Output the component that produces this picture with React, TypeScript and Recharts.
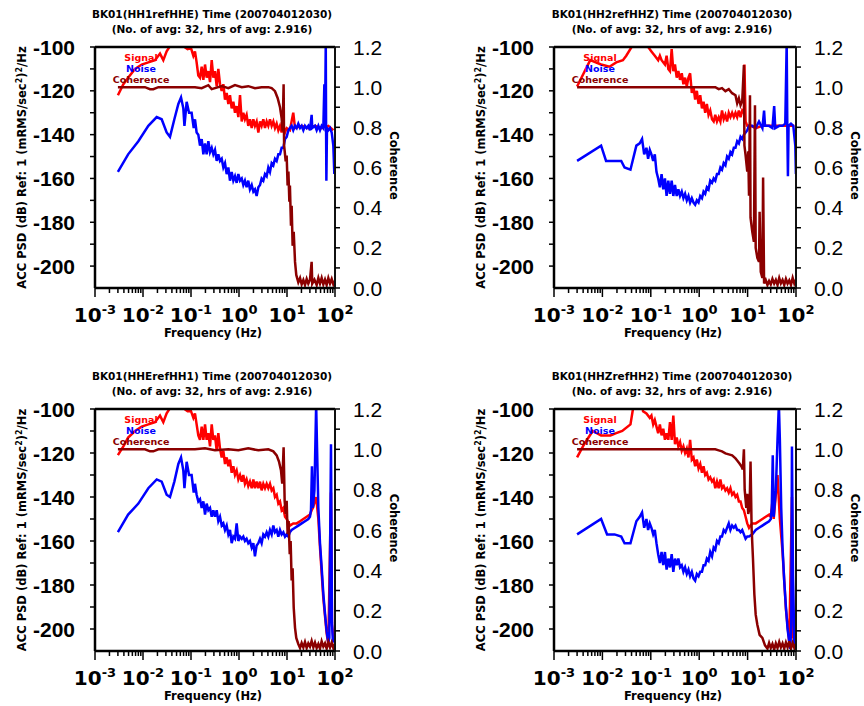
import { Legend, Line, LineChart, XAxis, YAxis } from "recharts";

type Pt = [number, number];

// ---- data: [frequency Hz, value] ----
const hh1Signal: Pt[] = [
  [0.003, -122], [0.0039, -117], [0.0049, -114], [0.0068, -110], [0.0094, -108], [0.0129, -107], [0.0178, -106],
  [0.0226, -103], [0.0265, -106], [0.0311, -102], [0.038, -99], [0.05, -95], [0.066, -97], [0.073, -100], [0.085, -101],
  [0.1, -100.5], [0.112, -104], [0.121, -102], [0.131, -107], [0.142, -113], [0.154, -114], [0.167, -109], [0.181, -115],
  [0.196, -108], [0.212, -114], [0.23, -111], [0.249, -116], [0.27, -106], [0.292, -114], [0.316, -111], [0.343, -118],
  [0.371, -110], [0.402, -117], [0.436, -120], [0.472, -117], [0.511, -124], [0.554, -121], [0.6, -126], [0.649, -122],
  [0.704, -128], [0.762, -125], [0.825, -130], [0.894, -127], [0.969, -132], [1.05, -122], [1.14, -134], [1.23, -130],
  [1.33, -133], [1.44, -131], [1.56, -136], [1.69, -133], [1.84, -137], [1.99, -133], [2.15, -136], [2.33, -134],
  [2.53, -139], [2.74, -134], [2.96, -136], [3.21, -133], [3.48, -137], [3.77, -134], [4.08, -136], [4.42, -133],
  [4.79, -136], [5.19, -134], [5.62, -137], [6.09, -135], [6.6, -138], [7.15, -136], [7.74, -139], [8.39, -136],
  [9.09, -139], [9.84, -137], [11.5, -138], [13.5, -130], [14.7, -137], [20.2, -136], [27.8, -137], [38.3, -136],
  [52.7, -137], [72.6, -136], [92.3, -138],
];
const hh1Noise: Pt[] = [
  [0.003, -157], [0.0049, -149], [0.008, -143], [0.0129, -136], [0.0193, -132], [0.0245, -133], [0.0311, -139],
  [0.0365, -141], [0.045, -133], [0.0545, -126], [0.062, -123], [0.0692, -128], [0.073, -136], [0.0812, -125],
  [0.091, -130], [0.103, -130], [0.114, -137], [0.121, -133], [0.131, -139], [0.142, -140], [0.154, -145], [0.167, -142],
  [0.181, -149], [0.196, -144], [0.212, -149], [0.23, -143], [0.249, -148], [0.27, -146], [0.292, -149], [0.316, -147],
  [0.343, -152], [0.371, -149], [0.402, -152], [0.436, -151], [0.472, -155], [0.511, -153], [0.554, -158], [0.6, -155],
  [0.649, -161], [0.704, -157], [0.762, -161], [0.825, -159], [0.894, -162], [0.969, -158], [1.05, -161], [1.14, -160],
  [1.23, -163], [1.33, -161], [1.44, -164], [1.56, -161], [1.69, -165], [1.84, -163], [1.99, -166], [2.15, -165],
  [2.33, -168], [2.53, -164], [2.74, -163], [2.96, -160], [3.21, -161], [3.48, -158], [3.77, -159], [4.08, -155],
  [4.42, -157], [4.79, -153], [5.19, -154], [5.62, -151], [6.09, -152], [6.6, -149], [7.15, -149], [7.74, -146],
  [8.39, -146], [9.09, -142], [9.84, -141], [10.7, -138], [11.5, -137], [12.5, -136], [13.5, -138], [14.7, -136],
  [15.9, -137], [17.2, -135], [18.7, -137], [20.2, -136], [21.9, -138], [23.7, -136], [25.7, -137], [27.8, -136],
  [30.1, -138], [32.6, -131], [33.6, -137], [38.3, -136], [41.5, -138], [45, -136], [48.7, -138], [52.7, -136],
  [57.1, -137], [60, -117], [61.9, -137], [64.2, -98], [65.2, -137], [66.1, -161], [68.1, -137], [72.6, -138],
  [78.7, -137], [85.3, -139], [92.3, -145], [96.8, -158],
];
const hh1Coherence: Pt[] = [
  [0.003, 1.0], [0.0049, 1.0], [0.011, 1.0], [0.014, 0.99], [0.0164, 0.99], [0.0209, 1.0], [0.0545, 1.0], [0.088, 1.0],
  [0.121, 1.0], [0.167, 0.995], [0.23, 1.01], [0.27, 0.99], [0.436, 1.005], [0.6, 0.995], [0.825, 1.01], [1.14, 1.0],
  [1.56, 1.005], [2.15, 0.995], [2.96, 1.0], [4.08, 1.0], [4.79, 0.995], [5.62, 0.98], [6.4, 0.945], [7.15, 0.9],
  [7.74, 0.845], [8.1, 0.78], [8.5, 1.015], [8.7, 0.71], [9.4, 0.63], [9.84, 0.66], [10.3, 0.51], [10.7, 0.58],
  [11.2, 0.43], [11.5, 0.51], [12.1, 0.31], [12.5, 0.41], [13.1, 0.21], [13.8, 0.28], [14.7, 0.13], [15.6, 0.065],
  [17.2, 0.028], [18.7, 0.05], [20.2, 0.018], [21.9, 0.04], [23.7, 0.015], [25.7, 0.045], [27.8, 0.022], [30.1, 0.04],
  [32.6, 0.13], [33.6, 0.022], [37.3, 0.042], [41.5, 0.015], [45, 0.05], [48.7, 0.022], [52.7, 0.05], [57.1, 0.018],
  [61.9, 0.042], [67, 0.015], [72.6, 0.05], [78.7, 0.022], [85.3, 0.045], [92.3, 0.018], [99, 0.035],
];

const hh2Signal: Pt[] = [
  [0.003, -118], [0.0056, -106], [0.0094, -108], [0.014, -109], [0.0193, -107], [0.0265, -106], [0.0311, -104],
  [0.0428, -99], [0.059, -96], [0.0812, -98], [0.088, -100], [0.103, -102], [0.121, -104], [0.142, -106], [0.154, -104],
  [0.167, -106], [0.196, -108], [0.212, -104], [0.23, -110], [0.249, -111], [0.27, -101], [0.292, -111], [0.316, -108],
  [0.343, -114], [0.371, -111], [0.402, -115], [0.436, -112], [0.472, -117], [0.511, -114], [0.554, -118], [0.6, -114],
  [0.649, -112], [0.704, -121], [0.762, -118], [0.825, -124], [0.894, -120], [0.969, -126], [1.05, -122], [1.14, -128],
  [1.23, -125], [1.33, -130], [1.44, -126], [1.56, -131], [1.69, -129], [1.84, -133], [1.99, -134], [2.15, -131],
  [2.33, -134], [2.53, -132], [2.74, -134], [2.96, -129], [3.21, -133], [3.48, -131], [3.77, -134], [4.08, -130],
  [4.42, -132], [4.79, -130], [5.19, -132], [5.62, -130], [6.09, -132], [6.6, -129], [7.15, -132], [7.74, -129],
  [8.39, -130], [8.6, -108], [9.09, -134], [9.84, -136], [11.5, -136], [14.7, -137], [20.2, -136], [27.8, -136],
  [38.3, -136], [52.7, -136], [72.6, -136], [92.3, -136],
];
const hh2Noise: Pt[] = [
  [0.003, -152], [0.0094, -145], [0.0119, -152], [0.0164, -152], [0.0245, -152], [0.0287, -155], [0.038, -156],
  [0.0503, -145], [0.059, -144], [0.066, -142], [0.073, -149], [0.0812, -146], [0.088, -151], [0.0953, -147],
  [0.103, -149], [0.112, -152], [0.121, -149], [0.131, -157], [0.142, -160], [0.154, -164], [0.167, -158], [0.181, -165],
  [0.196, -160], [0.212, -168], [0.23, -161], [0.249, -167], [0.27, -161], [0.292, -168], [0.316, -163], [0.343, -168],
  [0.371, -165], [0.402, -168], [0.436, -166], [0.472, -169], [0.511, -167], [0.554, -170], [0.6, -168], [0.649, -171],
  [0.704, -169], [0.762, -171], [0.825, -172], [0.894, -170], [0.969, -171], [1.05, -168], [1.14, -169], [1.23, -166],
  [1.33, -167], [1.44, -164], [1.56, -165], [1.69, -161], [1.84, -162], [1.99, -160], [2.15, -161], [2.33, -158],
  [2.53, -158], [2.74, -155], [2.96, -156], [3.21, -153], [3.48, -154], [3.77, -150], [4.08, -151], [4.42, -148],
  [4.79, -149], [5.19, -146], [5.62, -146], [6.09, -143], [6.6, -144], [7.15, -141], [7.74, -142], [8.39, -140],
  [9.09, -139], [9.84, -138], [10.7, -136], [12.5, -136], [14.7, -137], [17.2, -134], [20.2, -137], [21.9, -129],
  [22.9, -136], [27.8, -136], [32.6, -137], [35.4, -127], [37.3, -137], [45, -136], [52.7, -136], [60, -135],
  [64.2, -98], [66.1, -136], [68.1, -159], [70.2, -136], [78.7, -135], [87.9, -136], [96.8, -145], [99.5, -158],
];
const hh2Coherence: Pt[] = [
  [0.003, 1.0], [0.0245, 1.0], [0.6, 1.0], [1.84, 1.0], [2.15, 1.0], [2.53, 0.99], [2.96, 0.995], [3.48, 0.98],
  [4.08, 0.99], [4.79, 0.97], [5.62, 0.96], [6.09, 0.92], [6.6, 0.945], [7.15, 0.91], [7.74, 0.93], [8.39, 1.11],
  [8.6, 0.71], [9.09, 0.66], [9.84, 0.58], [10.3, 0.68], [10.7, 0.46], [11.2, 0.96], [11.5, 0.35], [12.5, 0.28],
  [13.5, 0.23], [14.2, 0.91], [14.7, 0.2], [15.9, 0.15], [17.2, 0.13], [17.7, 0.38], [18.7, 0.08], [20.2, 0.05],
  [20.9, 0.55], [21.9, 0.023], [23.7, 0.04], [25.7, 0.015], [27.8, 0.035], [30.1, 0.018], [32.6, 0.045], [35.4, 0.022],
  [38.3, 0.04], [41.5, 0.015], [45, 0.05], [48.7, 0.023], [52.7, 0.04], [57.1, 0.015], [61.9, 0.045], [67, 0.022],
  [72.6, 0.038], [78.7, 0.015], [85.3, 0.05], [92.3, 0.022], [99, 0.04],
];

const hheSignal: Pt[] = [
  [0.003, -121], [0.0039, -117], [0.0049, -113], [0.0068, -110], [0.0094, -108], [0.0129, -107], [0.0178, -106],
  [0.0226, -103], [0.0265, -106], [0.0311, -102], [0.038, -99], [0.0503, -95], [0.066, -97], [0.073, -100],
  [0.085, -101], [0.1, -101], [0.112, -104], [0.121, -102], [0.131, -107], [0.142, -112], [0.154, -114], [0.167, -108],
  [0.181, -114], [0.196, -107], [0.212, -114], [0.23, -111], [0.249, -117], [0.27, -107], [0.292, -114], [0.316, -112],
  [0.343, -119], [0.371, -111], [0.402, -118], [0.436, -122], [0.472, -119], [0.511, -125], [0.554, -122], [0.6, -126],
  [0.649, -123], [0.704, -129], [0.762, -126], [0.825, -130], [0.894, -128], [0.969, -132], [1.05, -130], [1.14, -133],
  [1.23, -130], [1.33, -134], [1.44, -132], [1.56, -135], [1.69, -133], [1.84, -136], [1.99, -132], [2.15, -136],
  [2.33, -133], [2.53, -136], [2.74, -133], [2.96, -137], [3.21, -134], [3.48, -136], [3.77, -134], [4.08, -136],
  [4.42, -134], [4.79, -137], [5.19, -136], [5.62, -140], [6.09, -139], [6.6, -143], [7.15, -142], [7.74, -146],
  [8.39, -145], [9.09, -149], [9.84, -150], [11.5, -153], [13.5, -152], [15.9, -152], [18.7, -151], [21.9, -150],
  [25.7, -149], [30.1, -148], [32.6, -146], [34.6, -145], [40.5, -140], [45, -150], [48.7, -163], [57.1, -186],
  [67, -202], [72.6, -207], [82.5, -138], [86.5, -198], [95, -206],
];
const hheNoise: Pt[] = [
  [0.003, -156], [0.0049, -148], [0.008, -143], [0.0129, -136], [0.0193, -132], [0.0245, -133], [0.0311, -139],
  [0.0365, -140], [0.045, -133], [0.0545, -125], [0.062, -122], [0.0692, -128], [0.073, -136], [0.0812, -124],
  [0.091, -130], [0.103, -130], [0.114, -138], [0.121, -134], [0.131, -139], [0.142, -142], [0.154, -141], [0.167, -145],
  [0.181, -142], [0.196, -148], [0.212, -143], [0.23, -146], [0.249, -145], [0.27, -149], [0.292, -146], [0.316, -149],
  [0.343, -146], [0.371, -151], [0.402, -149], [0.436, -153], [0.472, -152], [0.511, -155], [0.554, -153], [0.6, -157],
  [0.649, -155], [0.704, -161], [0.762, -158], [0.825, -159], [0.894, -152], [0.969, -160], [1.05, -158], [1.14, -159],
  [1.23, -158], [1.33, -160], [1.44, -159], [1.56, -161], [1.69, -160], [1.84, -163], [1.99, -161], [2.15, -167],
  [2.33, -162], [2.53, -161], [2.74, -159], [2.96, -161], [3.21, -157], [3.48, -158], [3.77, -156], [4.08, -158],
  [4.42, -155], [4.79, -157], [5.19, -153], [5.62, -156], [6.09, -155], [6.6, -158], [7.15, -155], [7.74, -157],
  [8.39, -156], [9.09, -158], [9.84, -157], [10.7, -158], [11.5, -156], [12.5, -155], [14.7, -154], [17.2, -153],
  [20.2, -152], [23.7, -151], [27.8, -150], [30.1, -149], [31.6, -146], [33.1, -126], [34.6, -145], [37.3, -137],
  [40.5, -98], [42.2, -117], [45, -145], [48.7, -161], [52.7, -172], [57.1, -184], [61.9, -193], [67, -201],
  [72.6, -206], [76.2, -204], [82.5, -116], [86.5, -197], [90.5, -206], [95, -205],
];
const hheCoherence: Pt[] = [
  [0.003, 1.0], [0.011, 1.0], [0.014, 0.99], [0.0164, 0.99], [0.0209, 1.0], [0.121, 1.0], [0.196, 1.005],
  [0.316, 0.995], [0.6, 1.0], [0.969, 0.995], [1.56, 1.005], [2.53, 0.995], [4.08, 1.0], [5.19, 0.99], [6.09, 0.97],
  [6.8, 0.94], [7.5, 0.895], [7.96, 0.83], [8.5, 1.01], [8.93, 0.745], [9.4, 0.68], [9.84, 0.745], [10.3, 0.58],
  [10.8, 0.645], [11.4, 0.48], [11.9, 0.545], [12.5, 0.35], [13.1, 0.41], [13.8, 0.215], [14.7, 0.115], [15.6, 0.065],
  [17.2, 0.035], [18.7, 0.015], [20.2, 0.04], [21.9, 0.018], [23.7, 0.045], [25.7, 0.015], [27.8, 0.038], [30.1, 0.022],
  [32.6, 0.05], [35.4, 0.018], [38.3, 0.042], [41.5, 0.015], [45, 0.035], [48.7, 0.012], [52.7, 0.048], [57.1, 0.022],
  [61.9, 0.038], [67, 0.012], [72.6, 0.045], [78.7, 0.018], [85.3, 0.042], [92.3, 0.015], [99, 0.035],
];

const hhzSignal: Pt[] = [
  [0.003, -122], [0.0042, -116], [0.0063, -110], [0.0094, -112], [0.0147, -112], [0.0193, -111], [0.0257, -110],
  [0.038, -107], [0.0428, -100], [0.0545, -96], [0.066, -97], [0.0692, -101], [0.0812, -102], [0.0953, -104],
  [0.103, -103], [0.112, -107], [0.121, -105], [0.131, -108], [0.142, -111], [0.154, -107], [0.167, -112], [0.181, -109],
  [0.196, -114], [0.212, -111], [0.23, -114], [0.249, -106], [0.27, -114], [0.292, -103], [0.316, -116], [0.343, -113],
  [0.371, -117], [0.402, -115], [0.436, -119], [0.472, -117], [0.511, -120], [0.554, -118], [0.6, -122], [0.649, -114],
  [0.704, -123], [0.762, -122], [0.825, -126], [0.894, -123], [0.969, -127], [1.05, -125], [1.14, -129], [1.23, -126],
  [1.33, -130], [1.44, -129], [1.56, -132], [1.69, -131], [1.84, -133], [1.99, -132], [2.15, -136], [2.33, -133],
  [2.53, -136], [2.74, -132], [2.96, -136], [3.21, -135], [3.48, -137], [3.77, -136], [4.08, -138], [4.42, -136],
  [4.79, -139], [5.19, -138], [5.62, -140], [6.09, -139], [6.6, -142], [7.15, -142], [7.74, -145], [8.39, -146],
  [9.09, -149], [9.84, -152], [10.7, -154], [11.5, -153], [12.5, -152], [14.7, -152], [17.2, -151], [20.2, -150],
  [23.7, -149], [27.8, -148], [30.1, -149], [32.6, -142], [34.6, -150], [41.5, -130], [46.4, -150], [52.7, -165],
  [61.9, -191], [72.6, -206], [82.5, -140], [87.9, -204], [96.8, -206],
];
const hhzNoise: Pt[] = [
  [0.003, -157], [0.0094, -150], [0.0125, -157], [0.0178, -157], [0.0245, -158], [0.0287, -161], [0.038, -161],
  [0.0503, -151], [0.059, -149], [0.066, -147], [0.073, -154], [0.0812, -150], [0.088, -155], [0.0953, -152],
  [0.103, -154], [0.112, -157], [0.121, -155], [0.131, -161], [0.142, -166], [0.154, -170], [0.167, -165], [0.181, -171],
  [0.196, -165], [0.212, -173], [0.23, -168], [0.249, -172], [0.27, -166], [0.292, -174], [0.316, -168], [0.343, -171],
  [0.371, -168], [0.402, -172], [0.436, -171], [0.472, -174], [0.511, -172], [0.554, -175], [0.6, -173], [0.649, -176],
  [0.704, -174], [0.762, -177], [0.825, -178], [0.894, -175], [0.969, -176], [1.05, -174], [1.14, -174], [1.23, -171],
  [1.33, -171], [1.44, -168], [1.56, -169], [1.69, -165], [1.84, -167], [1.99, -163], [2.15, -164], [2.33, -160],
  [2.53, -161], [2.74, -158], [2.96, -158], [3.21, -155], [3.48, -156], [3.77, -154], [4.08, -152], [4.42, -155],
  [4.79, -153], [5.19, -154], [5.62, -153], [6.09, -155], [6.6, -155], [7.15, -156], [7.74, -155], [8.39, -157],
  [9.09, -159], [9.84, -158], [10.7, -158], [12.5, -157], [14.7, -155], [17.2, -154], [20.2, -153], [23.7, -152],
  [27.8, -151], [30.1, -150], [31.6, -145], [33.1, -121], [34.6, -149], [38.3, -137], [41.5, -114], [44.3, -98],
  [46.4, -114], [49.5, -145], [52.7, -163], [57.1, -178], [61.9, -190], [67, -200], [72.6, -206], [76.2, -209],
  [79.9, -198], [82.5, -117], [86.5, -175], [92.3, -206], [98, -208],
];
const hhzCoherence: Pt[] = [
  [0.003, 1.0], [0.0245, 1.0], [1.84, 1.0], [2.15, 1.0], [2.53, 0.995], [2.96, 0.99], [3.48, 0.98], [4.08, 0.975],
  [4.79, 0.97], [5.62, 0.955], [6.09, 0.945], [6.8, 0.93], [7.5, 0.915], [7.96, 0.9], [8.39, 1.0], [8.7, 0.8],
  [9.4, 0.71], [9.84, 0.78], [10.3, 0.68], [11.0, 0.71], [11.5, 0.94], [12.1, 0.61], [12.9, 0.46], [13.8, 0.28],
  [14.7, 0.18], [15.9, 0.13], [17.7, 0.08], [20.2, 0.065], [22.9, 0.028], [25.7, 0.012], [27.8, 0.04], [30.1, 0.015],
  [32.6, 0.035], [35.4, 0.008], [38.3, 0.038], [41.5, 0.015], [45, 0.045], [48.7, 0.018], [52.7, 0.038], [57.1, 0.012],
  [61.9, 0.042], [67, 0.018], [72.6, 0.048], [78.7, 0.012], [85.3, 0.04], [92.3, 0.015], [99, 0.035],
];

const subtitle = "(No. of avg: 32, hrs of avg: 2.916)";
const legendOrder = ["Signal", "Noise", "Coherence"];
const psdTicks = [-200, -190, -180, -170, -160, -150, -140, -130, -120, -110, -100];
const cohTicks = [0, 0.1, 0.2, 0.3, 0.4, 0.5, 0.6, 0.7, 0.8, 0.9, 1.0, 1.1, 1.2];
const decades = [0.001, 0.01, 0.1, 1, 10, 100];
const freqTicks: number[] = [];
decades.forEach((d, i) => {
  freqTicks.push(d);
  if (i < decades.length - 1) for (let m = 2; m <= 9; m++) freqTicks.push(+(d * m).toPrecision(3));
});

const LABEL_FONT = '"DejaVu Sans", Verdana, sans-serif';
const NUM_FONT = '"Liberation Sans", Arial, sans-serif';

const isDecade = (v: number) => Math.abs(Math.log10(v) - Math.round(Math.log10(v))) < 1e-6;

function BottomTick({ x, y, payload }: any) {
  const v = Number(payload.value);
  const major = isDecade(v);
  return (
    <g>
      <line x1={x} x2={x} y1={y} y2={y + (major ? 9 : 5)} stroke="#000" strokeWidth={1.5} />
      {major ? (
        <text x={x} y={y + 34} textAnchor="middle" fontFamily={LABEL_FONT} fontWeight="bold" fontSize={20} fill="#000">
          10
          <tspan fontSize={13} dy={-8}>
            {Math.round(Math.log10(v))}
          </tspan>
        </text>
      ) : null}
    </g>
  );
}

function TopTick({ x, y, payload }: any) {
  const major = isDecade(Number(payload.value));
  return <line x1={x} x2={x} y1={y} y2={y - (major ? 9 : 5)} stroke="#000" strokeWidth={1.5} />;
}

function LeftTick({ x, y, payload }: any) {
  const v = Number(payload.value);
  return (
    <g>
      <line x1={x - 5} x2={x} y1={y} y2={y} stroke="#000" strokeWidth={1.5} />
      {v % 20 === 0 ? (
        <text x={x - 20} y={y + 7.5} textAnchor="end" fontFamily={NUM_FONT} fontWeight="bold" fontSize={21} fill="#000">
          {v}
        </text>
      ) : null}
    </g>
  );
}

function RightTick({ x, y, payload }: any) {
  const v = Number(payload.value);
  return (
    <g>
      <line x1={x} x2={x + 5} y1={y} y2={y} stroke="#000" strokeWidth={1.5} />
      {Math.round(v * 10) % 2 === 0 ? (
        <text x={x + 18} y={y + 7.5} textAnchor="start" fontFamily={NUM_FONT} fontSize={21} fill="#000">
          {v.toFixed(1)}
        </text>
      ) : null}
    </g>
  );
}

function renderLegend(props: any) {
  const items = [...(props.payload ?? [])].sort(
    (a: any, b: any) => legendOrder.indexOf(a.value) - legendOrder.indexOf(b.value)
  );
  return (
    <div style={{ textAlign: "center", fontFamily: LABEL_FONT, fontWeight: "bold", fontSize: 9.5, lineHeight: "11px" }}>
      {items.map((it: any) => (
        <div key={it.value} style={{ color: it.color }}>
          {it.value}
        </div>
      ))}
    </div>
  );
}

interface PanelSpec {
  title: string;
  left: number;
  top: number;
  margin: { top: number; right: number; bottom: number; left: number };
  signal: Pt[];
  noise: Pt[];
  coherence: Pt[];
}

const W = 432;
const H = 353;

const panels: PanelSpec[] = [
  { title: "BK01(HH1refHHE) Time (200704012030)", left: 0, top: 0, margin: { top: 46, right: 96, bottom: 64, left: 94 }, signal: hh1Signal, noise: hh1Noise, coherence: hh1Coherence },
  { title: "BK01(HH2refHHZ) Time (200704012030)", left: 432, top: 0, margin: { top: 46, right: 67, bottom: 64, left: 121 }, signal: hh2Signal, noise: hh2Noise, coherence: hh2Coherence },
  { title: "BK01(HHErefHH1) Time (200704012030)", left: 0, top: 362, margin: { top: 46, right: 96, bottom: 63, left: 94 }, signal: hheSignal, noise: hheNoise, coherence: hheCoherence },
  { title: "BK01(HHZrefHH2) Time (200704012030)", left: 432, top: 362, margin: { top: 46, right: 67, bottom: 63, left: 121 }, signal: hhzSignal, noise: hhzNoise, coherence: hhzCoherence },
];

const toRows = (pts: Pt[]) => pts.map(([f, v]) => ({ f, v }));

function Panel({ spec }: { spec: PanelSpec }) {
  const m = spec.margin;
  const plotL = m.left + 1;
  const plotR = W - m.right - 1;
  const plotT = m.top + 1;
  const plotB = H - m.bottom - 1;
  const cx = (plotL + plotR) / 2;
  const cy = (plotT + plotB) / 2;
  const axisLine = { stroke: "#000", strokeWidth: 2.5 };
  return (
    <div style={{ position: "absolute", left: spec.left, top: spec.top, width: W, height: H }}>
      <LineChart width={W} height={H} margin={m}>
        <XAxis
          xAxisId="bottom"
          dataKey="f"
          type="number"
          scale="log"
          domain={[0.001, 100]}
          allowDataOverflow
          ticks={freqTicks}
          interval={0}
          height={1}
          tickSize={0}
          tickMargin={0}
          tickLine={false}
          axisLine={axisLine}
          tick={(p: any) => <BottomTick {...p} />}
        />
        <XAxis
          xAxisId="top"
          orientation="top"
          type="number"
          scale="log"
          domain={[0.001, 100]}
          allowDataOverflow
          ticks={freqTicks}
          interval={0}
          height={1}
          tickSize={0}
          tickMargin={0}
          tickLine={false}
          axisLine={axisLine}
          tick={(p: any) => <TopTick {...p} />}
        />
        <YAxis
          yAxisId="psd"
          type="number"
          domain={[-210, -100]}
          allowDataOverflow
          ticks={psdTicks}
          interval={0}
          width={1}
          tickSize={0}
          tickMargin={0}
          tickLine={false}
          axisLine={axisLine}
          tick={(p: any) => <LeftTick {...p} />}
        />
        <YAxis
          yAxisId="coh"
          orientation="right"
          type="number"
          domain={[0, 1.2]}
          allowDataOverflow
          ticks={cohTicks}
          interval={0}
          width={1}
          tickSize={0}
          tickMargin={0}
          tickLine={false}
          axisLine={{ stroke: "#111", strokeWidth: 2 }}
          tick={(p: any) => <RightTick {...p} />}
        />
        <Legend
          layout="vertical"
          align="center"
          verticalAlign="middle"
          content={renderLegend}
          wrapperStyle={{ left: plotL + 1, top: plotT + 5, width: 90 }}
        />
        <Line xAxisId="bottom" yAxisId="psd" data={toRows(spec.signal)} dataKey="v" name="Signal" stroke="#ff0000" strokeWidth={2.5} dot={false} isAnimationActive={false} />
        <Line xAxisId="bottom" yAxisId="psd" data={toRows(spec.noise)} dataKey="v" name="Noise" stroke="#0000ff" strokeWidth={2.5} dot={false} isAnimationActive={false} />
        <Line xAxisId="bottom" yAxisId="coh" data={toRows(spec.coherence)} dataKey="v" name="Coherence" stroke="#8b0000" strokeWidth={2.5} dot={false} isAnimationActive={false} />
      </LineChart>
      <svg
        width={W}
        height={H}
        style={{ position: "absolute", left: 0, top: 0, pointerEvents: "none", overflow: "visible" }}
      >
        <g fontFamily={LABEL_FONT} fontWeight="bold" fill="#000">
          <text x={cx - 3} y={17.5} textAnchor="middle" fontSize={10.5}>
            {spec.title}
          </text>
          <text x={cx - 3} y={32.5} textAnchor="middle" fontSize={10.5}>
            {subtitle}
          </text>
          <text transform={`translate(${plotL - 69} ${cy}) rotate(-90)`} textAnchor="middle" fontSize={11.5}>
            ACC PSD (dB) Ref: 1 (mRMS/sec
            <tspan dy={-4} fontSize={8}>2</tspan>
            <tspan dy={4}>)</tspan>
            <tspan dy={-4} fontSize={8}>2</tspan>
            <tspan dy={4}>/Hz</tspan>
          </text>
          <text transform={`translate(${plotR + 55} ${cy - 2}) rotate(90)`} textAnchor="middle" fontSize={11.5}>
            Coherence
          </text>
          <text x={cx - 2} y={plotB + 49} textAnchor="middle" fontSize={11.5}>
            Frequency (Hz)
          </text>
        </g>
      </svg>
    </div>
  );
}

export default function App() {
  return (
    <div style={{ position: "absolute", left: 0, top: 0, width: 864, height: 706, background: "#fff" }}>
      {panels.map((p) => (
        <Panel key={p.title} spec={p} />
      ))}
    </div>
  );
}
